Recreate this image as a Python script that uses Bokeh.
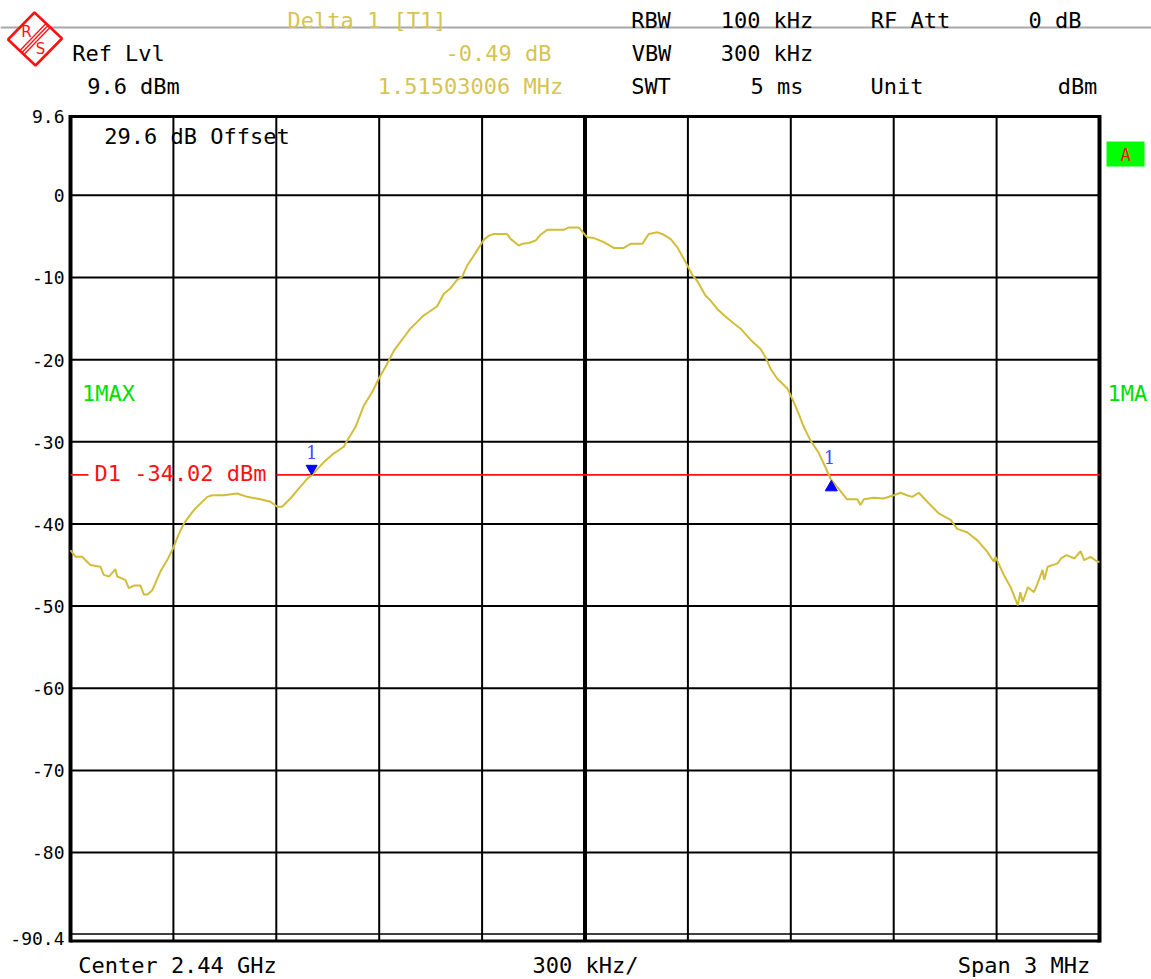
from bokeh.plotting import figure
from bokeh.models import Range1d
from bokeh.core.properties import value
from bokeh.embed import file_html
from bokeh.resources import INLINE

# ------------------------------------------------------------------ data
center_label = "2.44 GHz"
span_mhz = 3
div_khz = 300
ref_level_dbm = 9.6
bottom_level_dbm = -90.4
offset_db = 29.6
rbw_khz = 100
vbw_khz = 300
swt_ms = 5
rf_att_db = 0

# trace (frequency offset from centre, kHz) / level (dBm)
freq_offset_khz = [
    -1500, -1485, -1466, -1442, -1413, -1403, -1388, -1369, -1364, -1340,
    -1330, -1315, -1296, -1286, -1276, -1262, -1238, -1218, -1199, -1184,
    -1170, -1155, -1136, -1121, -1101, -1087, -1053, -1014, -985, -946,
    -917, -897, -883, -859, -839, -810, -795, -762, -732, -703,
    -693, -669, -645, -620, -601, -582, -557, -543, -523, -509,
    -489, -470, -455, -431, -412, -392, -373, -358, -343, -319,
    -295, -280, -266, -227, -217, -193, -183, -164, -144, -130,
    -110, -62, -47, -18, 6, 26, 55, 84, 113, 133,
    167, 186, 211, 225, 249, 269, 293, 313, 327, 351,
    366, 385, 405, 434, 453, 483, 512, 526, 541, 560,
    590, 609, 623, 638, 657, 682, 701, 716, 735, 764,
    794, 803, 813, 842, 871, 900, 920, 939, 954, 973,
    998, 1031, 1066, 1085, 1114, 1144, 1173, 1192, 1197, 1221,
    1241, 1262, 1269, 1276, 1291, 1309, 1319, 1334, 1339, 1349,
    1378, 1388, 1404, 1427, 1445, 1455, 1474, 1494, 1500,
]
level_dbm = [
    -43.2, -44.0, -44.0, -45.0, -45.2, -46.2, -46.4, -45.5, -46.4, -46.8,
    -47.8, -47.5, -47.5, -48.6, -48.6, -48.1, -45.8, -44.4, -42.8, -41.2,
    -40.0, -39.1, -38.1, -37.5, -36.7, -36.5, -36.5, -36.3, -36.7, -37.0,
    -37.3, -37.9, -37.9, -36.9, -35.9, -34.5, -34.0, -32.5, -31.4, -30.6,
    -29.8, -28.2, -25.6, -23.9, -22.3, -20.9, -18.9, -18.1, -17.0, -16.2,
    -15.4, -14.6, -14.2, -13.5, -12.0, -11.3, -10.3, -9.9, -8.5, -7.0,
    -5.4, -4.9, -4.7, -4.7, -5.3, -6.1, -5.9, -5.8, -5.5, -4.8,
    -4.2, -4.2, -3.9, -3.9, -5.1, -5.2, -5.7, -6.4, -6.4, -5.9,
    -5.9, -4.7, -4.5, -4.7, -5.3, -6.3, -8.1, -9.7, -10.4, -12.2,
    -12.8, -13.8, -14.6, -15.6, -16.2, -17.6, -18.7, -19.7, -21.1, -22.3,
    -23.5, -25.2, -26.6, -28.2, -29.8, -31.4, -33.1, -34.5, -35.5, -37.0,
    -37.0, -37.7, -37.0, -36.8, -36.9, -36.5, -36.2, -36.5, -36.7, -36.2,
    -37.3, -38.7, -39.5, -40.6, -41.0, -42.0, -43.4, -44.6, -44.0, -46.2,
    -47.7, -49.9, -48.3, -49.5, -47.7, -48.3, -47.3, -45.6, -46.8, -45.2,
    -44.8, -44.2, -43.8, -44.2, -43.3, -44.4, -44.0, -44.6, -44.6,
]

x_grid_khz = [-1200, -900, -600, -300, 0, 300, 600, 900, 1200]
y_grid_dbm = [0, -10, -20, -30, -40, -50, -60, -70, -80]
y_tick_values = [9.6, 0, -10, -20, -30, -40, -50, -60, -70, -80, -90.4]
y_tick_labels = ["9.6", "0", "-10", "-20", "-30", "-40", "-50", "-60",
                 "-70", "-80", "-90.4"]

display_line_dbm = -34.02
marker1_khz = -797.0
marker1_dbm = -34.02
delta1_khz = 1515.03006
delta1_db = -0.49
delta_marker_khz = marker1_khz + delta1_khz
delta_marker_dbm = marker1_dbm + delta1_db

# ------------------------------------------------------------------ layout
W, H = 1151, 979
M = 0                      # canvas origin in picture pixels
GX0, GX1 = 70.0, 1099.0    # screen x of grid left / right
GY0, GY1 = 116.0, 937.5    # screen y of grid top / bottom
half = span_mhz * 1000 / 2
kpp = span_mhz * 1000 / (GX1 - GX0)                       # kHz per px
dpp = (ref_level_dbm - bottom_level_dbm) / (GY1 - GY0)     # dB per px
FIX = 0.34                 # baseline correction (fraction of font size)

p = figure(width=W, height=H,
           x_range=Range1d(-half - (GX0 - M) * kpp, half + (M + W - GX1) * kpp),
           y_range=Range1d(bottom_level_dbm - (M + H - GY1) * dpp,
                           ref_level_dbm + (GY0 - M) * dpp),
           output_backend="svg", toolbar_location=None,
           x_axis_location=None, y_axis_location=None, min_border=0)
p.extra_x_ranges = {"px": Range1d(M, M + W)}
p.extra_y_ranges = {"px": Range1d(M + H, M)}
p.grid.visible = False
p.outline_line_color = None
p.background_fill_color = "white"
p.border_fill_color = "white"

MONO = value("DejaVu Sans Mono")
YEL_T = "#d6c452"
TRACE = "#d2bd3a"
RED = "#ff1010"
GREEN = "#00dd00"
BLUE = "#0000ff"

# header separator
p.segment(x0=[M], x1=[M + W], y0=[27], y1=[27], x_range_name="px",
          y_range_name="px", line_color="#a8a8a8", line_width=2)

# R&S logo
p.patch(x=[34, 61.5, 35, 7.5], y=[12, 38, 65, 39], x_range_name="px",
        y_range_name="px", fill_color="white", line_color=RED, line_width=2.5)
p.multi_line(xs=[[19.5, 45.5], [21.5, 47.5], [23.5, 49.5]],
             ys=[[50, 23], [52, 25], [54, 27]], x_range_name="px",
             y_range_name="px", line_color=RED, line_width=1.3)
p.text(x=[26, 40], y=[37 - FIX * 15, 54 - FIX * 15], text=["R", "S"],
       x_range_name="px", y_range_name="px", text_font=value("DejaVu Sans"),
       text_font_size="15px", text_align="center",
       text_baseline="alphabetic", text_color=RED)

# grid
bottom_ext = bottom_level_dbm - 3 * dpp
p.segment(x0=x_grid_khz, x1=x_grid_khz, y0=[ref_level_dbm] * len(x_grid_khz),
          y1=[bottom_ext] * len(x_grid_khz), line_color="#000000",
          line_width=[4 if x == 0 else 2 for x in x_grid_khz])
p.segment(x0=[-half] * len(y_grid_dbm), x1=[half] * len(y_grid_dbm),
          y0=y_grid_dbm, y1=y_grid_dbm, line_color="#000000", line_width=2)
# frame
p.segment(x0=[-half, half], x1=[-half, half],
          y0=[ref_level_dbm + 1.5 * dpp] * 2, y1=[bottom_ext - 1.5 * dpp] * 2,
          line_color="#000000", line_width=4)
p.segment(x0=[-half], x1=[half], y0=[ref_level_dbm], y1=[ref_level_dbm],
          line_color="#000000", line_width=3)
p.segment(x0=[GX0, GX0], x1=[GX1 + 1, GX1 + 1], y0=[933.5, 940.5],
          y1=[933.5, 940.5], x_range_name="px", y_range_name="px",
          line_color="#000000", line_width=[1.5, 3])

# display line D1
p.segment(x0=[GX0, 276], x1=[88, GX1], y0=[display_line_dbm] * 2,
          y1=[display_line_dbm] * 2, x_range_name="px",
          line_color=RED, line_width=1.6)

# trace
p.line(freq_offset_khz, level_dbm, line_color=TRACE, line_width=2)

# markers
p.scatter(x=[marker1_khz], y=[marker1_dbm + 6.35 * dpp], marker="inverted_triangle",
          size=11, fill_color=BLUE, line_color=BLUE)
p.scatter(x=[delta_marker_khz], y=[delta_marker_dbm - 8.5 * dpp], marker="triangle",
          size=12, fill_color=BLUE, line_color=BLUE)
p.text(x=[marker1_khz, delta_marker_khz - 5],
       y=[marker1_dbm + (16.7 + FIX * 18) * dpp,
          delta_marker_dbm + (15.4 + FIX * 18) * dpp],
       text=["1", "1"], text_font=value("DejaVu Serif"), text_font_size="18px",
       text_align="center", text_baseline="alphabetic", text_color="#4848ff")

# y tick labels
p.text(x=[64] * len(y_tick_values),
       y=[v - (6.5 - FIX * 18) * dpp for v in y_tick_values],
       text=y_tick_labels, x_range_name="px", text_font=MONO,
       text_font_size="18px", text_align="right", text_baseline="alphabetic",
       text_color="#000000")


def texts(items, color, size=22, align="center"):
    p.text(x=[t[1] for t in items], y=[t[2] - FIX * size for t in items],
           text=[t[0] for t in items], x_range_name="px", y_range_name="px",
           text_font=MONO, text_font_size=f"{size}px", text_align=align,
           text_baseline="alphabetic", text_color=color)


texts([
    ("RBW", 650.5, 27), (f"{rbw_khz} kHz", 766.5, 27), ("RF Att", 910, 27),
    (f"{rf_att_db} dB", 1054.5, 27),
    ("Ref Lvl", 118, 60), ("VBW", 651, 60), (f"{vbw_khz} kHz", 766.5, 60),
    (f"{ref_level_dbm} dBm", 133, 93), ("SWT", 650.5, 93),
    (f"{swt_ms} ms", 776.5, 93), ("Unit", 896.5, 93), ("dBm", 1077, 93),
    (f"{offset_db} dB Offset", 196.5, 143),
    (f"Center {center_label}", 177, 972), (f"{div_khz} kHz/", 585, 972),
    (f"Span {span_mhz} MHz", 1023.5, 972),
], "#000000")
texts([
    ("Delta 1 [T1]", 366.5, 27), (f"{delta1_db:.2f} dB", 498, 60),
    (f"{delta1_khz / 1000:.8f} MHz", 470, 93),
], YEL_T)
texts([("1MAX", 108, 400)], GREEN)
texts([("1MA", 1107, 400)], GREEN, align="left")
texts([(f"D1 {display_line_dbm:.2f} dBm", 180, 480)], RED)

# "A" trace indicator
p.quad(left=[1106], right=[1144], top=[141], bottom=[166], x_range_name="px",
       y_range_name="px", fill_color="#00ff00", line_color=None)
texts([("A", 1125, 160)], RED, size=17)

open("out.html", "w").write(file_html(p, INLINE))
